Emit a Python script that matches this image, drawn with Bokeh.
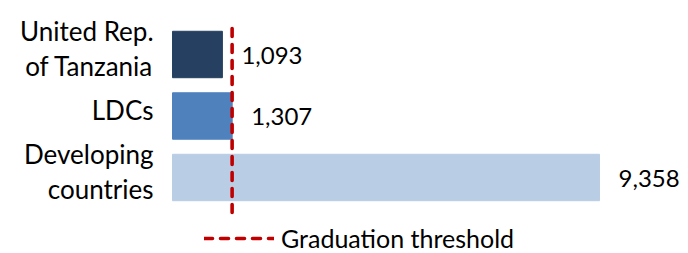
import numpy as np
from bokeh.plotting import figure
from bokeh.models import Range1d, ColumnDataSource
from bokeh.core.properties import value
from bokeh.embed import file_html
from bokeh.resources import INLINE

# ---- data ----
categories = ["United Rep. of Tanzania", "LDCs", "Developing countries"]
display_labels = ["United Rep.\nof Tanzania", "LDCs", "Developing\ncountries"]
values = [1093, 1307, 9358]
value_labels = ["1,093", "1,307", "9,358"]
colors = ["#254061", "#4F81BD", "#B9CDE5"]
threshold = 1306
threshold_label = "Graduation threshold"

FONT = "Lato"

rows = np.arange(len(categories))[::-1]          # first category on top

p = figure(width=688, height=253,
           x_range=Range1d(-3770, 11308), y_range=Range1d(-1.236, 2.878),
           output_backend="svg", toolbar_location=None,
           min_border_left=0, min_border_right=0, min_border_top=0,
           min_border_bottom=0)

src = ColumnDataSource(dict(row=rows, val=values, lab=value_labels, col=colors,
                            name=display_labels, zero=[0] * len(values)))

p.hbar(y="row", right="val", left=0, height=0.755, color="col", source=src)

# value labels
p.text(x="val", y="row", text="lab", source=src, x_offset=19, y_offset=1,
       text_baseline="middle", text_align="left",
       text_font=value(FONT), text_font_size="24px", text_color="#000000")

# category labels
p.text(x="zero", y="row", text="name", source=src, x_offset=-19, y_offset=-6,
       text_baseline="middle", text_align="right", text_line_height=1.1,
       text_font=value(FONT), text_font_size="26px", text_color="#000000")

# graduation threshold
p.line(x=[threshold, threshold], y=[rows.min() - 0.57, rows.max() + 0.47],
       line_color="#C00000", line_width=3.6, line_dash="8 8", line_cap="round",
       legend_label=threshold_label)

p.axis.visible = False
p.grid.visible = False
p.outline_line_color = None

lg = p.legend[0]
lg.location = (204, 0)
lg.border_line_color = None
lg.background_fill_alpha = 0
lg.padding = 0
lg.margin = 0
lg.spacing = 0
lg.glyph_width = 70
lg.glyph_height = 22
lg.label_height = 22
lg.label_standoff = 7
lg.label_text_font = FONT
lg.label_text_font_size = "25px"
lg.label_text_color = "#000000"
lg.label_text_baseline = "middle"

open("out.html", "w").write(file_html(p, INLINE))
